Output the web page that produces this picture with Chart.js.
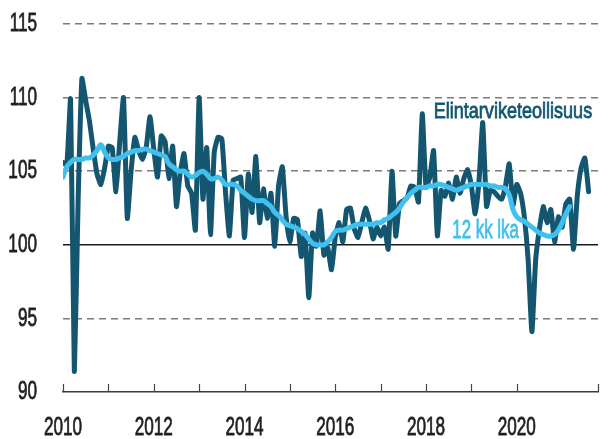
<!DOCTYPE html>
<html>
<head>
<meta charset="utf-8">
<script src="https://cdn.jsdelivr.net/npm/chart.js@4.4.0/dist/chart.umd.min.js"></script>
<style>
  html, body { margin: 0; padding: 0; background: #fff; }
  #wrap { width: 608px; height: 439px; }
</style>
</head>
<body>
<div id="wrap"><canvas id="chart"></canvas></div>
<script>
// monthly data, Jan 2010 onwards
const startYear = 2010;
const yearLabels = ['2010', '2012', '2014', '2016', '2018', '2020'];
const yTicks = [90, 95, 100, 105, 110, 115];
const seriesNames = ['Elintarviketeollisuus', '12 kk lka'];

const industry = [
  105.6, 105.4, 109.9, 91.4, 103.0, 111.3, 109.8, 108.4, 106.5, 104.8, 104.1, 105.2,
  106.7, 106.6, 103.6, 107.0, 110.0, 101.8, 105.0, 107.3, 106.4, 105.8, 106.6, 108.7,
  106.5, 104.6, 107.4, 107.0, 104.5, 106.7, 102.6, 104.9, 106.2, 104.0, 103.5, 101.0,
  110.0, 103.1, 106.6, 100.7, 106.3, 107.3, 107.2, 103.5, 100.6, 104.4, 104.5, 104.6,
  100.5, 104.8, 102.2, 106.0, 101.5, 103.8, 101.8, 103.5, 99.9, 104.0, 105.3, 101.9,
  100.2, 101.8, 101.7, 99.2, 100.8, 96.4, 100.8, 99.9, 102.3, 99.3, 99.8, 98.3,
  100.5, 101.5, 100.2, 102.4, 102.5, 101.1, 100.5, 101.5, 102.5, 101.7, 100.4, 101.2,
  100.6, 101.2, 99.7, 105.0, 100.6, 102.8, 103.0, 103.2, 104.0, 103.9, 102.9, 108.9,
  103.9, 104.6, 106.4, 100.6, 103.7, 103.3, 104.2, 103.1, 104.6, 103.5, 104.5, 105.1,
  104.0, 102.1, 104.3, 108.3, 102.6, 103.7, 103.6, 103.3, 103.1, 104.0, 105.5, 102.7,
  104.1, 103.5, 101.9, 99.0, 94.1, 99.0, 101.1, 102.6, 101.5, 102.4, 100.2, 101.9,
  101.2, 102.8, 103.1, 99.7, 103.3, 105.2, 105.9, 103.6
];

const avg12 = [
  104.6, 105.3, 105.6, 105.8, 105.8, 105.8, 105.9, 105.9, 106.1, 106.4, 106.8, 106.3,
  105.9, 105.8, 105.8, 105.9, 106.0, 106.2, 106.3, 106.4, 106.4, 106.5, 106.5, 106.4,
  106.3, 106.2, 106.1, 106.0, 105.5, 105.3, 105.1, 105.0, 105.0, 104.8, 104.6, 104.7,
  104.9, 105.0, 104.8, 104.5, 104.5, 104.6, 104.4, 104.1, 104.1, 104.1, 104.0, 103.7,
  103.5, 103.3, 103.1, 103.0, 103.0, 103.0, 102.8, 102.6, 102.2, 102.0, 101.7, 101.4,
  101.3, 101.2, 101.1, 100.9, 100.7, 100.4, 100.1, 100.0, 100.0, 100.0, 100.2, 100.5,
  100.9, 101.0, 101.0, 101.1, 101.2, 101.3, 101.4, 101.4, 101.4, 101.4, 101.4, 101.5,
  101.5, 101.7, 101.8, 102.0, 102.2, 102.5, 102.9, 103.2, 103.5, 103.7, 103.9, 103.9,
  103.9, 104.0, 104.0, 104.1, 104.1, 104.0, 103.9, 103.8, 103.7, 103.8, 103.9, 104.0,
  104.1, 104.1, 104.1, 104.1, 104.1, 104.0, 104.0, 103.9, 103.9, 103.8, 103.4, 102.4,
  101.9, 101.7, 101.6, 101.4, 101.2, 101.0, 100.8, 100.7, 100.6, 100.6, 100.7, 101.0,
  101.5, 102.1, 102.6
];

const DARK = '#145670';
const LIGHT = '#3fc0ee';
const TEXT = '#231f20';
const FONT = "'Liberation Sans', Arial, sans-serif";

const toPoints = arr => arr.map((v, i) => ({ x: startYear + i / 12, y: v }));

// condensed text: plain sans squeezed horizontally, lightly stroked for weight
function drawText(ctx, text, x, y, align, size, color, sx) {
  ctx.save();
  ctx.translate(x, y);
  ctx.scale(sx, 1);
  ctx.font = size + 'px ' + FONT;
  ctx.textAlign = align;
  ctx.textBaseline = 'middle';
  ctx.fillStyle = color;
  ctx.strokeStyle = color;
  ctx.lineWidth = 0.8;
  ctx.fillText(text, 0, 0);
  ctx.strokeText(text, 0, 0);
  ctx.restore();
}

const extras = {
  id: 'extras',
  beforeDatasetsDraw(chart) {
    const { ctx, chartArea, scales: { x } } = chart;
    ctx.save();
    ctx.strokeStyle = '#444';
    ctx.lineWidth = 1.2;
    x.ticks.forEach(t => {
      const px = Math.round(x.getPixelForValue(t.value)) + 0.5;
      ctx.beginPath();
      ctx.moveTo(px, chartArea.bottom);
      ctx.lineTo(px, chartArea.bottom - 8);
      ctx.stroke();
    });
    ctx.restore();
  },
  afterDraw(chart) {
    const { ctx, chartArea, scales: { x, y } } = chart;
    yTicks.forEach(v => {
      drawText(ctx, String(v), chartArea.left - 26, y.getPixelForValue(v), 'right', 26, TEXT, 0.66);
    });
    yearLabels.forEach(lbl => {
      drawText(ctx, lbl, x.getPixelForValue(Number(lbl)), chartArea.bottom + 36, 'center', 26, TEXT, 0.66);
    });
    drawText(ctx, seriesNames[0], x.getPixelForValue(2018.17), y.getPixelForValue(109.0), 'left', 22, DARK, 0.82);
    drawText(ctx, seriesNames[1], x.getPixelForValue(2018.58), y.getPixelForValue(100.95), 'left', 25, LIGHT, 0.675);
  }
};

new Chart(document.getElementById('chart'), {
  type: 'line',
  data: {
    datasets: [
      {
        label: seriesNames[1],
        data: toPoints(avg12),
        borderColor: LIGHT,
        borderWidth: 5,
        tension: 0.4,
        pointRadius: 0,
        borderJoinStyle: 'round',
        borderCapStyle: 'round'
      },
      {
        label: seriesNames[0],
        data: toPoints(industry),
        borderColor: DARK,
        borderWidth: 5,
        tension: 0.15,
        pointRadius: 0,
        borderJoinStyle: 'round',
        borderCapStyle: 'round'
      }
    ]
  },
  options: {
    responsive: true,
    maintainAspectRatio: false,
    devicePixelRatio: 1,
    animation: false,
    layout: { padding: { top: 24, right: 10, left: 0, bottom: 0 } },
    plugins: {
      legend: { display: false },
      tooltip: { enabled: false }
    },
    scales: {
      x: {
        type: 'linear',
        min: 2010,
        max: 2021.79,
        afterFit: s => { s.height = 47; },
        grid: { drawOnChartArea: false, drawTicks: false },
        border: { display: true, color: '#3a3a3a', width: 1.5 },
        ticks: { stepSize: 1, autoSkip: false, display: false }
      },
      y: {
        min: yTicks[0],
        max: yTicks[yTicks.length - 1],
        afterFit: s => { s.width = 63; },
        afterBuildTicks: s => { s.ticks = yTicks.map(v => ({ value: v })); },
        grid: {
          drawTicks: false,
          lineWidth: 1.5,
          color: c => c.tick.value === 90 ? 'rgba(0,0,0,0)' : (c.tick.value === 100 ? '#1a1a1a' : '#7a7a7a')
        },
        border: {
          display: false,
          dash: c => c.tick && c.tick.value === 100 ? [] : [7, 5]
        },
        ticks: { display: false }
      }
    }
  },
  plugins: [extras]
});
</script>
</body>
</html>
